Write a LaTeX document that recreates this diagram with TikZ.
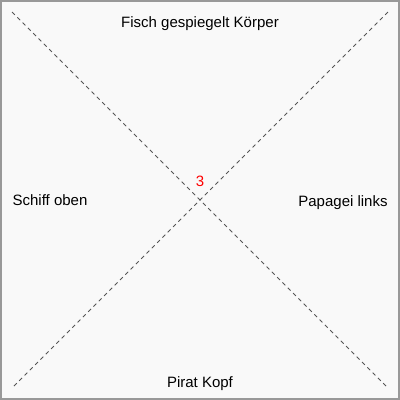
\documentclass[tikz,border=0pt]{standalone}
\usepackage{fontspec}
\setmainfont{Liberation Sans}
\definecolor{bgc}{HTML}{F9F9F9}
\definecolor{brd}{HTML}{999999}
\definecolor{lnc}{HTML}{555555}
\tikzset{
  lbl/.style={font=\fontsize{15}{17}\selectfont, text=black, inner sep=0pt, anchor=base},
  diag/.style={draw=lnc, line width=0.8pt, dash pattern=on 4pt off 3.5pt},
}
\begin{document}
\begin{tikzpicture}[x=1pt,y=-1pt]
\useasboundingbox (0,0) rectangle (400,400);
\fill[bgc] (0,0) rectangle (400,400);
\draw[brd, line width=2pt] (1,1) rectangle (399,399);
\coordinate (tl) at (12,12);
\coordinate (br) at (388,388);
\coordinate (tr) at (388,12);
\coordinate (bl) at (12,388);
\draw[diag] (tl) -- (br);
\draw[diag] (tr) -- (bl);
\node[lbl] (top) at (200,27.5) {Fisch gespiegelt Körper};
\node[lbl] (left) at (50,205.5) {Schiff oben};
\node[lbl] (right) at (343,206.5) {Papagei links};
\node[lbl] (bottom) at (200,387) {Pirat Kopf};
\node[lbl, text=red] (num) at (200,186.7) {3};
\end{tikzpicture}
\end{document}
